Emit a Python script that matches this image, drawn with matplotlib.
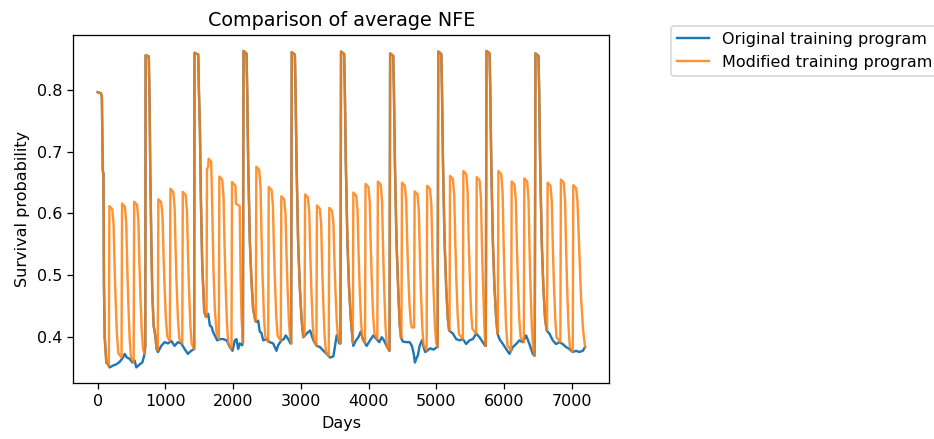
import matplotlib
matplotlib.use("Agg")
import matplotlib.pyplot as plt

# Original training program (day, survival probability)
orig_days = [0, 50, 62, 75, 85, 92, 103, 128, 152, 177, 226, 275, 324, 374, 398, 433, 472, 511, 546, 570, 619, 659, 693, 703,
             708, 755, 767, 777, 792, 806, 826, 851, 870,
             890, 939, 988, 1037, 1087, 1136, 1185, 1234, 1283, 1332, 1381, 1425,
             1430, 1485, 1495, 1510, 1524, 1544, 1574, 1600, 1632,
             1657, 1681, 1706, 1730, 1765, 1804, 1854, 1903, 1927, 1952, 1991, 2025, 2050, 2075, 2099, 2134, 2145,
             2154, 2198, 2208, 2223, 2247, 2272, 2296, 2330,
             2345, 2370, 2394, 2419, 2444, 2493, 2542, 2591, 2640, 2665, 2714, 2748, 2778, 2813, 2847, 2857,
             2866, 2912, 2922, 2937, 2960, 2985, 3010, 3035,
             3038, 3087, 3137, 3186, 3235, 3284, 3333, 3382, 3432, 3481, 3506, 3530, 3569, 3585,
             3594, 3640, 3650, 3665, 3688, 3712, 3738, 3760,
             3776, 3815, 3850, 3884, 3923, 3972, 4022, 4071, 4120, 4159, 4194, 4228, 4267, 4307, 4310,
             4319, 4365, 4375, 4390, 4413, 4437, 4460, 4480,
             4508, 4558, 4607, 4640, 4668, 4685, 4705, 4730, 4754, 4789, 4813, 4838, 4862, 4887, 4912, 4961, 5010, 5020,
             5030, 5075, 5085, 5100, 5123, 5147, 5170, 5190,
             5221, 5246, 5295, 5344, 5394, 5442, 5491, 5541, 5590, 5639, 5688, 5723, 5732,
             5742, 5788, 5798, 5813, 5836, 5860, 5885, 5905,
             5934, 5984, 6032, 6081, 6131, 6180, 6229, 6279, 6327, 6376, 6426, 6450, 6455,
             6465, 6510, 6520, 6535, 6558, 6582, 6607, 6630,
             6671, 6721, 6770, 6819, 6868, 6917, 6966, 7016, 7065, 7114, 7164, 7198]
orig_prob = [0.797, 0.795, 0.788, 0.670, 0.665, 0.490, 0.400, 0.358, 0.355, 0.350, 0.353, 0.355, 0.359, 0.366, 0.372, 0.366, 0.364, 0.358, 0.361, 0.350, 0.355, 0.358, 0.372, 0.385,
             0.857, 0.855, 0.773, 0.664, 0.555, 0.473, 0.418, 0.402, 0.380,
             0.375, 0.385, 0.391, 0.389, 0.393, 0.385, 0.391, 0.389, 0.380, 0.372, 0.377, 0.380,
             0.861, 0.858, 0.800, 0.735, 0.625, 0.517, 0.440, 0.432, 0.437,
             0.418, 0.416, 0.407, 0.402, 0.394, 0.396, 0.396, 0.394, 0.389, 0.383, 0.377, 0.394, 0.396, 0.380, 0.389, 0.386, 0.390,
             0.864, 0.860, 0.800, 0.680, 0.555, 0.489, 0.445, 0.425,
             0.424, 0.426, 0.408, 0.406, 0.394, 0.396, 0.391, 0.389, 0.377, 0.386, 0.394, 0.396, 0.402, 0.396, 0.389, 0.389,
             0.862, 0.858, 0.800, 0.680, 0.555, 0.480, 0.430, 0.400,
             0.399, 0.405, 0.410, 0.394, 0.385, 0.383, 0.377, 0.372, 0.366, 0.368, 0.385, 0.402, 0.389, 0.389,
             0.863, 0.859, 0.800, 0.680, 0.555, 0.480, 0.430, 0.400,
             0.385, 0.394, 0.399, 0.408, 0.394, 0.385, 0.394, 0.402, 0.396, 0.391, 0.399, 0.394, 0.385, 0.377, 0.377,
             0.860, 0.856, 0.800, 0.680, 0.555, 0.480, 0.420, 0.398,
             0.392, 0.391, 0.391, 0.385, 0.372, 0.358, 0.364, 0.370, 0.385, 0.394, 0.383, 0.375, 0.377, 0.379, 0.381, 0.379, 0.383, 0.383,
             0.863, 0.859, 0.800, 0.680, 0.555, 0.480, 0.430, 0.410,
             0.407, 0.405, 0.396, 0.394, 0.396, 0.388, 0.394, 0.396, 0.405, 0.399, 0.391, 0.385, 0.385,
             0.864, 0.860, 0.800, 0.680, 0.555, 0.480, 0.430, 0.405,
             0.396, 0.388, 0.380, 0.372, 0.383, 0.388, 0.394, 0.391, 0.402, 0.388, 0.372, 0.369, 0.369,
             0.860, 0.856, 0.800, 0.680, 0.555, 0.480, 0.430, 0.410,
             0.405, 0.394, 0.388, 0.391, 0.388, 0.383, 0.380, 0.375, 0.377, 0.375, 0.377, 0.383]

# Modified training program (day, survival probability)
mod_days = [0, 50, 62, 75, 85, 92, 103, 128, 152,
            165, 173, 215, 235, 250, 265, 285, 305,
            352, 360, 402, 422, 437, 452, 472, 492,
            531, 539, 581, 601, 616, 631, 651, 671, 693, 703,
            708, 755, 767, 777, 792, 806, 826, 851, 870,
            888, 896, 938, 958, 973, 988, 1008, 1028,
            1066, 1074, 1116, 1136, 1151, 1166, 1186, 1206,
            1249, 1257, 1299, 1319, 1334, 1349, 1369, 1389, 1425,
            1430, 1485, 1495, 1510, 1524, 1544, 1574, 1600,
            1608, 1614, 1632, 1638, 1675, 1683, 1696, 1710, 1730, 1755,
            1789, 1797, 1839, 1859, 1874, 1889, 1909, 1929,
            1976, 1984, 2035, 2042, 2097, 2110, 2125, 2145,
            2154, 2198, 2208, 2223, 2247, 2272, 2296, 2330,
            2335, 2343, 2385, 2405, 2420, 2435, 2455, 2475,
            2518, 2526, 2568, 2588, 2603, 2618, 2638, 2658,
            2704, 2712, 2754, 2774, 2789, 2804, 2824, 2844, 2857,
            2866, 2912, 2922, 2937, 2960, 2985, 3010, 3035,
            3055, 3063, 3105, 3125, 3140, 3155, 3175, 3195,
            3230, 3238, 3280, 3300, 3315, 3330, 3350, 3370,
            3412, 3420, 3462, 3482, 3497, 3512, 3532, 3552, 3585,
            3594, 3640, 3650, 3665, 3688, 3712, 3738, 3760,
            3768, 3776, 3818, 3838, 3853, 3868, 3888, 3908,
            3948, 3956, 3998, 4018, 4033, 4048, 4068, 4088,
            4130, 4138, 4180, 4200, 4215, 4230, 4250, 4270, 4310,
            4319, 4365, 4375, 4390, 4413, 4437, 4460, 4480,
            4486, 4494, 4536, 4556, 4571, 4586, 4606, 4626, 4640, 4671,
            4673, 4681, 4723, 4743, 4758, 4773, 4793, 4813,
            4858, 4866, 4908, 4928, 4943, 4958, 4978, 4998, 5020,
            5030, 5075, 5085, 5100, 5123, 5147, 5170, 5190,
            5196, 5204, 5246, 5266, 5281, 5296, 5316, 5336,
            5393, 5401, 5443, 5463, 5478, 5493, 5513, 5533,
            5590, 5598, 5640, 5660, 5675, 5690, 5708, 5722, 5732,
            5742, 5788, 5798, 5813, 5836, 5860, 5885, 5905,
            5910, 5918, 5960, 5980, 5995, 6010, 6030, 6050,
            6106, 6114, 6156, 6176, 6191, 6206, 6226, 6246,
            6293, 6301, 6343, 6363, 6378, 6393, 6413, 6433, 6455,
            6465, 6510, 6520, 6535, 6558, 6582, 6607, 6630,
            6637, 6645, 6687, 6707, 6722, 6737, 6757, 6777,
            6833, 6841, 6883, 6903, 6918, 6933, 6953, 6973,
            7016, 7024, 7066, 7086, 7110, 7139, 7170, 7198]
mod_prob = [0.797, 0.795, 0.788, 0.670, 0.665, 0.490, 0.400, 0.358, 0.355,
            0.352, 0.612, 0.607, 0.582, 0.514, 0.459, 0.403, 0.373,
            0.366, 0.616, 0.611, 0.585, 0.513, 0.456, 0.397, 0.366,
            0.358, 0.619, 0.614, 0.589, 0.520, 0.466, 0.409, 0.379, 0.372, 0.385,
            0.857, 0.855, 0.773, 0.664, 0.555, 0.473, 0.418, 0.402, 0.380,
            0.378, 0.623, 0.618, 0.595, 0.531, 0.480, 0.428, 0.400,
            0.393, 0.640, 0.635, 0.610, 0.540, 0.484, 0.427, 0.397,
            0.389, 0.635, 0.630, 0.604, 0.533, 0.477, 0.418, 0.388, 0.380,
            0.861, 0.858, 0.800, 0.735, 0.625, 0.517, 0.440, 0.432,
            0.432, 0.672, 0.676, 0.689, 0.684, 0.655, 0.582, 0.510, 0.445, 0.407,
            0.396, 0.660, 0.655, 0.626, 0.548, 0.486, 0.422, 0.388,
            0.380, 0.651, 0.645, 0.616, 0.612, 0.500, 0.430, 0.390,
            0.864, 0.860, 0.800, 0.680, 0.555, 0.489, 0.445, 0.425,
            0.425, 0.676, 0.671, 0.642, 0.562, 0.499, 0.434, 0.400,
            0.391, 0.643, 0.638, 0.613, 0.543, 0.489, 0.431, 0.401,
            0.394, 0.628, 0.623, 0.599, 0.532, 0.480, 0.425, 0.396, 0.389,
            0.862, 0.858, 0.800, 0.680, 0.555, 0.480, 0.430, 0.400,
            0.402, 0.631, 0.626, 0.601, 0.533, 0.478, 0.422, 0.392,
            0.385, 0.613, 0.608, 0.584, 0.515, 0.461, 0.405, 0.375,
            0.368, 0.609, 0.604, 0.583, 0.521, 0.473, 0.422, 0.396, 0.389,
            0.863, 0.859, 0.800, 0.680, 0.555, 0.480, 0.430, 0.400,
            0.390, 0.634, 0.629, 0.605, 0.536, 0.483, 0.427, 0.397,
            0.390, 0.648, 0.643, 0.618, 0.547, 0.492, 0.434, 0.404,
            0.396, 0.652, 0.647, 0.619, 0.542, 0.482, 0.418, 0.385, 0.377,
            0.860, 0.856, 0.800, 0.680, 0.555, 0.480, 0.420, 0.398,
            0.398, 0.650, 0.645, 0.622, 0.556, 0.504, 0.450, 0.422, 0.415, 0.415,
            0.415, 0.636, 0.631, 0.605, 0.533, 0.476, 0.417, 0.386,
            0.378, 0.645, 0.640, 0.614, 0.540, 0.483, 0.422, 0.391, 0.383,
            0.863, 0.859, 0.800, 0.680, 0.555, 0.480, 0.430, 0.410,
            0.410, 0.661, 0.656, 0.629, 0.555, 0.497, 0.436, 0.404,
            0.396, 0.669, 0.664, 0.637, 0.563, 0.505, 0.445, 0.413,
            0.405, 0.659, 0.654, 0.626, 0.549, 0.489, 0.426, 0.393, 0.385,
            0.864, 0.860, 0.800, 0.680, 0.555, 0.480, 0.430, 0.405,
            0.405, 0.669, 0.664, 0.634, 0.552, 0.488, 0.421, 0.386,
            0.377, 0.652, 0.647, 0.621, 0.548, 0.490, 0.430, 0.399,
            0.391, 0.657, 0.652, 0.622, 0.542, 0.478, 0.412, 0.378, 0.369,
            0.860, 0.856, 0.800, 0.680, 0.555, 0.480, 0.430, 0.410,
            0.410, 0.650, 0.645, 0.619, 0.546, 0.489, 0.430, 0.399,
            0.391, 0.655, 0.650, 0.621, 0.543, 0.481, 0.417, 0.383,
            0.375, 0.646, 0.641, 0.620, 0.550, 0.462, 0.410, 0.383]

# the reference looks rendered at ~115 dpi, so everything is a bit bigger
fig = plt.figure(figsize=(934 / 115, 439 / 115), dpi=115)
ax = fig.add_axes([0.0785, 0.127, 0.574, 0.793])

ax.plot(orig_days, orig_prob, label="Original training program")
ax.plot(mod_days, mod_prob, alpha=0.85, label="Modified training program")

ax.set_title("Comparison of average NFE")
ax.set_xlabel("Days")
ax.set_ylabel("Survival probability")
ax.legend(bbox_to_anchor=(1.1, 1.05), loc="upper left")

fig.savefig("out.png", dpi=115)
